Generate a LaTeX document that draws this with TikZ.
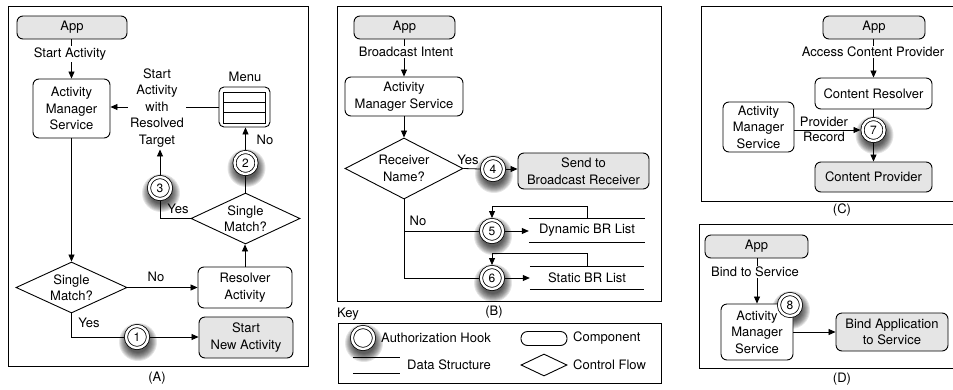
\documentclass[tikz,border=0pt]{standalone}
\usepackage{fontspec}
\setmainfont{TeX Gyre Heros}
\usetikzlibrary{arrows.meta,shapes.geometric,backgrounds}
\begin{document}
\begin{tikzpicture}[x=1pt,y=-1pt,
  base/.style={font=\fontsize{13pt}{16.5pt}\selectfont, align=center, inner sep=0pt},
  comp/.style={base, draw, rounded corners=6pt, fill=white, line width=0.9pt},
  compg/.style={comp, fill=gray!20},
  dia/.style={draw, diamond, inner sep=0pt, line width=0.9pt, fill=white},
  hook/.style={circle, draw, double, double distance=2.4pt, line width=0.8pt, fill=white, minimum size=22pt, inner sep=0pt, outer sep=2pt, font=\fontsize{12pt}{14pt}\selectfont},
  lbl/.style={base},
  lblw/.style={base, fill=white, inner sep=1.5pt},
  arr/.style={-{Triangle[length=7pt,width=6pt]}, line width=0.8pt},
  ln/.style={line width=0.8pt},
  panel/.style={line width=1pt},
  dstruct/.style={inner sep=0pt, base}
]
\useasboundingbox (0,0) rectangle (953,389);

% ================= Panel A =================
\draw[panel] (8,6) rectangle (308,366);
\node[lbl] (capA) at (157,378) {(A)};
\node[compg, minimum width=110pt, minimum height=23pt] (appA) at (72,27.5) {App};
\node[comp, minimum width=77pt, minimum height=59pt] (amsA) at (71.5,108.5) {Activity\\Manager\\Service};
\node[draw, rounded corners=5pt, line width=0.9pt, minimum width=51pt, minimum height=40pt, fill=white] (menu) at (244.5,107) {};
\draw[ln] ([shift={(5,6)}]menu.north west) rectangle ([shift={(-5,-4)}]menu.south east);
\draw[ln] ([shift={(5,16)}]menu.north west) -- ([shift={(-5,16)}]menu.north east);
\draw[ln] ([shift={(5,26)}]menu.north west) -- ([shift={(-5,26)}]menu.north east);
\node[lbl] (menuL) at (245,77) {Menu};
\node[dia, minimum width=109pt, minimum height=51pt, label={[base]center:Single\\Match?}] (d2) at (245.5,218.5) {};
\node[comp, minimum width=94pt, minimum height=41pt] (res) at (245,287.5) {Resolver\\Activity};
\node[dia, minimum width=111pt, minimum height=51pt, label={[base]center:Single\\Match?}] (d1) at (71.5,287.5) {};
\node[compg, minimum width=94pt, minimum height=41pt] (snew) at (246,337.5) {Start\\New Activity};

\draw[arr] (amsA.north |- appA.south) -- (amsA.north);
\draw[arr] (menu.west) -- (amsA.east |- menu.west);
\draw[arr] (amsA.south) -- (d1.north);
\draw[arr] (d1.east) -- (res.west);
\draw[arr] (res.north) -- (res.north |- d2.south);

\node[hook] (h1) at (137,337) {1};
\node[hook] (h2) at (245.5,163) {2};
\node[hook] (h3) at (160,188) {3};

\draw[ln] (d1.south) |- (h1.west);
\draw[arr] (h1.east) -- (snew.west |- h1.east);
\draw[ln] (d2.north) -- (h2.south);
\draw[arr] (h2.north) -- (h2.north |- menu.south);
\draw[ln] (d2.west) -| (h3.south);

\node[lblw] (saA) at (70,54) {Start Activity};
\node[lblw, inner sep=2pt] (t3) at (157,108) {Start\\Activity\\with\\Resolved\\Target};
\draw[arr] (h3.north) -- (h3.north |- t3.south);
\node[lbl] (noA2) at (265,140) {No};
\node[lbl] (yesA2) at (178,209) {Yes};
\node[lbl] (noA1) at (156,277) {No};
\node[lbl] (yesA1) at (89,323) {Yes};

% ================= Panel B =================
\draw[panel] (337,6) rectangle (661,301);
\node[lbl] (capB) at (494,312) {(B)};
\node[compg, minimum width=101pt, minimum height=23pt] (appB) at (404.5,27.5) {App};
\node[comp, minimum width=118pt, minimum height=39pt] (amsB) at (404,96.5) {Activity\\Manager Service};
\node[dia, minimum width=118pt, minimum height=61pt, label={[base]center:Receiver\\Name?}] (dB) at (404,168.5) {};
\node[compg, minimum width=131pt, minimum height=36pt] (sendB) at (583.5,171) {Send to\\Broadcast Receiver};
\node[dstruct, minimum width=116pt, minimum height=23pt] (ds5) at (587,230.5) {Dynamic BR List};
\node[dstruct, minimum width=114pt, minimum height=22pt] (ds6) at (587,278) {Static BR List};
\draw[ln] (ds5.north west) -- (ds5.north east);
\draw[ln] (ds5.south west) -- (ds5.south east);
\draw[ln] (ds6.north west) -- (ds6.north east);
\draw[ln] (ds6.south west) -- (ds6.south east);

\draw[arr] (amsB.north |- appB.south) -- (amsB.north);
\draw[arr] (amsB.south) -- (dB.north);

\node[hook] (h4) at (493,169) {4};
\node[hook] (h5) at (492,231) {5};
\node[hook] (h6) at (492,278) {6};

\draw[ln] (dB.east) -- (h4.west);
\draw[arr] (h4.east) -- (sendB.west |- h4.east);
\draw[ln] (dB.south) |- (h6.west);
\draw[ln] (dB.south |- h5.west) -- (h5.west);
\draw[arr] (h5.east) -- (ds5.west |- h5.east);
\draw[arr] (h6.east) -- (ds6.west |- h6.east);
\draw[arr] (ds5.north) -- ++(0,-12) -| (h5.north);
\draw[arr] (ds6.north) -- ++(0,-13) -| (h6.north);

\node[lblw] (biB) at (406,52) {Broadcast Intent};
\node[lbl] (yesB) at (468,160) {Yes};
\node[lbl] (noB) at (418,221) {No};

% ================= Key =================
\node[lbl] (keyL) at (348,314) {Key};
\draw[panel] (338,323) rectangle (661,383);
\node[hook] (kh) at (363,338) {};
\node[lbl, anchor=west] (khL) at (381,338) {Authorization Hook};
\node[dstruct, minimum width=47pt, minimum height=15pt] (kds) at (376.5,365.5) {};
\draw[ln] (kds.north west) -- (kds.north east);
\draw[ln] (kds.south west) -- (kds.south east);
\node[lbl, anchor=west] (kdsL) at (407,365) {Data Structure};
\node[draw, rounded corners=6.5pt, line width=0.9pt, minimum width=46pt, minimum height=14pt, inner sep=0pt] (kc) at (544,338.5) {};
\node[lbl, anchor=west] (kcL) at (573,338) {Component};
\node[dia, minimum width=46pt, minimum height=22pt] (kd) at (544,365) {};
\node[lbl, anchor=west] (kdL) at (573,365) {Control Flow};

% ================= Panel C =================
\draw[panel] (954,6) -- (701,6) -- (701,201) -- (954,201);
\node[lbl] (capC) at (842,210) {(C)};
\node[compg, minimum width=102pt, minimum height=23pt] (appC) at (874,27.5) {App};
\node[comp, minimum width=117pt, minimum height=31pt] (cres) at (873.5,93.5) {Content Resolver};
\node[compg, minimum width=117pt, minimum height=30pt] (cprov) at (873.5,177) {Content Provider};
\node[comp, minimum width=71pt, minimum height=50pt] (amsC) at (758.5,127) {Activity\\Manager\\Service};
\node[hook] (h7) at (873.5,130) {7};
\draw[arr] (cres.north |- appC.south) -- (cres.north);
\draw[ln] (cres.south) -- (h7.north);
\draw[arr] (h7.south) -- (cprov.north);
\draw[arr] (amsC.east |- h7.west) -- (h7.west);
\node[lblw] (acp) at (873,52) {Access Content Provider};
\node[base, font=\fontsize{13pt}{15pt}\selectfont] (prL) at (824,129.5) {Provider\\Record};

% ================= Panel D =================
\draw[panel] (954,224) -- (699,224) -- (699,368) -- (954,368);
\node[lbl] (capD) at (842,379) {(D)};
\node[compg, minimum width=103pt, minimum height=23pt] (appD) at (756.5,246.5) {App};
\node[comp, minimum width=72pt, minimum height=56pt] (amsD) at (757,332) {Activity\\Manager\\Service};
\node[compg, minimum width=112pt, minimum height=38pt] (bind) at (892,332) {Bind Application\\to Service};
\draw[arr] (amsD.north |- appD.south) -- (amsD.north);
\draw[arr] (amsD.east) -- (bind.west);
\node[hook] (h8) at (790,305) {8};
\node[lblw] (bts) at (755,272) {Bind to Service};

% ================= shadows =================
\begin{scope}[on background layer]
  \fill[white] (0,0) rectangle (953,389);
  \foreach \h in {h1,h2,h3,h4,h5,h6,h7,h8,kh}
    \foreach \r in {11,...,19}
      \fill[black, opacity=0.1] ([shift={(1,5)}]\h.center) circle (\r pt);
\end{scope}
\end{tikzpicture}
\end{document}
